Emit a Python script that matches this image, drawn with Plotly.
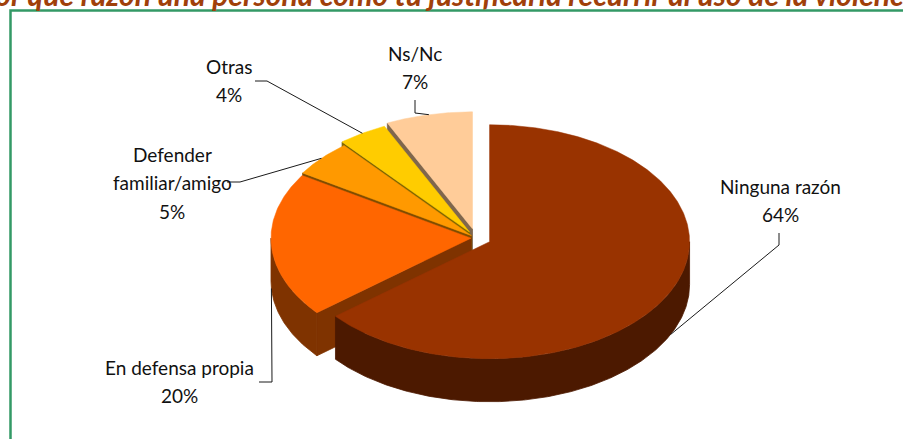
import numpy as np
import plotly.graph_objects as go

# ---------------- data ----------------
categories = ["Ninguna razón", "En defensa propia", "Defender familiar/amigo", "Otras", "Ns/Nc"]
values = [64, 20, 5, 4, 7]
label_lines = [["Ninguna razón"], ["En defensa propia"], ["Defender", "familiar/amigo"], ["Otras"], ["Ns/Nc"]]
title_text = "¿Por qué razón una persona como tú justificaría recurrir al uso de la violencia?"

# ---------------- style / layout ----------------
colors = ["#993300", "#FF6600", "#FF9900", "#FFCC00", "#FFCC99"]
explode = [0.075, 0.025, 0.03, 0.06, 0.08]
W, H = 903, 439
CX, CY = 476, 238
RX, RY = 200, 117
DEPTH = 43
FONT = "Lato"
LINE_GAP = 28.5
# label: centre x, first line y ; leader start, elbow
label_pos = {
    "Ninguna razón": dict(x=780, y=186, start=(779, 233), elbow=(779, 245)),
    "En defensa propia": dict(x=179, y=367, start=(259, 382), elbow=(272, 382)),
    "Defender familiar/amigo": dict(x=172, y=154, start=(227, 182), elbow=(240, 182)),
    "Otras": dict(x=229, y=66, start=(255, 81), elbow=(267, 81)),
    "Ns/Nc": dict(x=415, y=53, start=(415, 100), elbow=(415, 113)),
}


def darker(hexc, f=0.5):
    h = hexc.lstrip("#")
    r, g, b = (int(h[i:i + 2], 16) for i in (0, 2, 4))
    return "#%02X%02X%02X" % (int(r * f), int(g * f), int(b * f))


vals = np.array(values, dtype=float)
fr = vals / vals.sum()
cum = np.concatenate([[0], np.cumsum(fr)])
t_start = 90 - 360 * cum[:-1]
t_end = 90 - 360 * cum[1:]

slices = []
for i in range(len(values)):
    bis = np.deg2rad((t_start[i] + t_end[i]) / 2)
    ox = CX + explode[i] * RX * np.cos(bis)
    oy = CY - explode[i] * RY * np.sin(bis)
    slices.append((ox, oy))


def rim(ox, oy, th_deg, h=0.0):
    th = np.deg2rad(th_deg)
    return ox + RX * np.cos(th), oy - RY * np.sin(th) + h


def arc(ox, oy, a, b, h=0.0):
    n = max(2, int(abs(b - a) / 0.5) + 1)
    th = np.linspace(a, b, n)
    x, y = rim(ox, oy, th, h)
    return list(x), list(y)


fig = go.Figure()


def poly(xs, ys, color, lw=0.8):
    fig.add_trace(go.Scatter(x=xs + [xs[0]], y=ys + [ys[0]], mode="lines", fill="toself",
                             fillcolor=color, line=dict(color=color, width=lw),
                             hoverinfo="skip", showlegend=False))


# cut faces (radial sides)
faces = []
for i in range(len(values)):
    ox, oy = slices[i]
    for ang, vis in ((t_start[i], np.cos(np.deg2rad(t_start[i])) < -1e-6),
                     (t_end[i], np.cos(np.deg2rad(t_end[i])) > 1e-6)):
        if vis:
            x1, y1 = rim(ox, oy, ang)
            xs = [ox, x1, x1, ox]
            ys = [oy, y1, y1 + DEPTH, oy + DEPTH]
            depth_key = -np.sin(np.deg2rad(ang))
            faces.append((depth_key, xs, ys, darker(colors[i])))
faces.sort(key=lambda f: f[0])
for _, xs, ys, c in faces:
    poly(xs, ys, c)

# outer walls (front half)
for i in range(len(values)):
    ox, oy = slices[i]
    lo, hi = t_end[i], t_start[i]
    for k in (-1, 0, 1):
        a, b = 180 + 360 * k, 360 + 360 * k
        s, e = max(lo, a), min(hi, b)
        if e > s:
            xt, yt = arc(ox, oy, s, e, 0)
            xb, yb = arc(ox, oy, e, s, DEPTH)
            poly(xt + xb, yt + yb, darker(colors[i]))

# tops
for i in range(len(values)):
    ox, oy = slices[i]
    xa, ya = arc(ox, oy, t_end[i], t_start[i], 0)
    poly([ox] + xa, [oy] + ya, colors[i], lw=0.5)

# leader lines + labels
annotations = []
for i, cat in enumerate(categories):
    ox, oy = slices[i]
    mid = (t_start[i] + t_end[i]) / 2
    ax, ay = rim(ox, oy, mid, DEPTH if np.sin(np.deg2rad(mid)) < 0 else 0)
    lp = label_pos[cat]
    fig.add_trace(go.Scatter(x=[lp["start"][0], lp["elbow"][0], ax],
                             y=[lp["start"][1], lp["elbow"][1], ay],
                             mode="lines", line=dict(color="#1a1a1a", width=1),
                             hoverinfo="skip", showlegend=False))
    lines = label_lines[i] + [f"{values[i]}%"]
    for j, t in enumerate(lines):
        annotations.append(dict(x=lp["x"], y=lp["y"] + j * LINE_GAP, xref="x", yref="y",
                                text=t, showarrow=False, xanchor="center", yanchor="middle",
                                font=dict(family=FONT, size=19, color="#111111")))

annotations.append(dict(x=0.5, y=1 + 5.5 / H, xref="paper", yref="paper",
                        text=f"<b><i>{title_text}</i></b>",
                        showarrow=False, xanchor="center", yanchor="middle",
                        font=dict(family=FONT, size=30, color="#A0400A")))

fig.update_layout(
    width=W, height=H, margin=dict(l=0, r=0, t=0, b=0),
    paper_bgcolor="white", plot_bgcolor="white",
    xaxis=dict(range=[0, W], visible=False, fixedrange=True),
    yaxis=dict(range=[H, 0], visible=False, fixedrange=True),
    annotations=annotations,
    shapes=[dict(type="rect", xref="x", yref="y", x0=10.5, y0=10.5, x1=W + 20, y1=H + 20,
                 line=dict(color="#339966", width=2.5), fillcolor="rgba(0,0,0,0)", layer="below")],
    showlegend=False,
)

fig.write_html("out.html", config={"displayModeBar": False},
               post_script="document.body.style.margin='0';document.body.style.overflow='hidden';")
